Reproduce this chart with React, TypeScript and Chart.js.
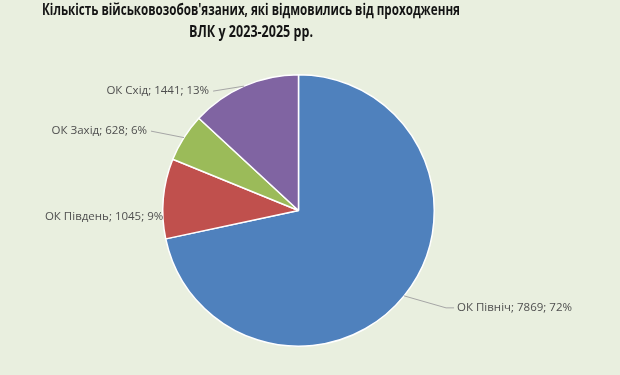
import React, { useEffect, useRef } from "react";
import { Chart, registerables } from "chart.js";

Chart.register(...registerables);

const categories = ["ОК Північ", "ОК Південь", "ОК Захід", "ОК Схід"];
const values = [7869, 1045, 628, 1441];
const percentLabels = ["72%", "9%", "6%", "13%"];
const colors = ["#4f81bd", "#c0504d", "#9bbb59", "#8064a2"];
const titleLines = [
  "Кількість військовозобов'язаних, які відмовились від проходження",
  "ВЛК у 2023-2025 рр.",
];

const BG = "#e9efdf";

// label placement relative to the slice's outer mid point
const labelPlacement = [
  { dx: 53, dy: 12, align: "left", elbow: { dx: 42, dy: 12 } },
  { dx: 0, dy: 18, align: "right", noLine: true },
  { dx: -37, dy: -6.5, align: "right" },
  { dx: -35, dy: 5, align: "right" },
];

const overlayPlugin = {
  id: "overlay",
  beforeDraw(chart: any) {
    const ctx = chart.ctx;
    ctx.save();
    ctx.fillStyle = BG;
    ctx.fillRect(0, 0, chart.width, chart.height);
    ctx.restore();
  },
  afterDraw(chart: any) {
    const ctx = chart.ctx;
    ctx.save();
    // title
    ctx.fillStyle = "#141414";
    ctx.font = "bold 15.5px 'Liberation Sans Narrow', 'Open Sans'";
    ctx.textAlign = "center";
    ctx.textBaseline = "alphabetic";
    ctx.fillText(titleLines[0], 251, 14.5, 418);
    ctx.fillText(titleLines[1], 251, 36.5, 124);

    // data labels
    const meta = chart.getDatasetMeta(0);
    ctx.font = "11.5px 'Open Sans'";
    ctx.textBaseline = "middle";
    meta.data.forEach((arc: any, i: number) => {
      const p = labelPlacement[i];
      const mid = (arc.startAngle + arc.endAngle) / 2;
      const ex = arc.x + Math.cos(mid) * arc.outerRadius;
      const ey = arc.y + Math.sin(mid) * arc.outerRadius;
      const tx = ex + p.dx;
      const ty = ey + p.dy;
      const text = `${categories[i]}; ${values[i]}; ${percentLabels[i]}`;
      if (!p.noLine) {
        ctx.strokeStyle = "#a6a6a6";
        ctx.lineWidth = 1;
        ctx.beginPath();
        ctx.moveTo(ex, ey);
        if (p.elbow) {
          ctx.lineTo(ex + p.elbow.dx, ey + p.elbow.dy);
        }
        ctx.lineTo(tx + (p.align === "left" ? -3 : 4), ty);
        ctx.stroke();
      }
      ctx.fillStyle = "#4f4f4f";
      ctx.textAlign = p.align;
      ctx.fillText(text, tx, ty);
    });
    ctx.restore();
  },
};

export default function App() {
  const ref = useRef<HTMLCanvasElement>(null);
  useEffect(() => {
    if (!ref.current) return;
    const chart = new Chart(ref.current, {
      type: "pie",
      data: {
        labels: categories,
        datasets: [
          {
            data: values,
            backgroundColor: colors,
            borderColor: "#ffffff",
            borderWidth: 1.5,
          },
        ],
      },
      options: {
        responsive: false,
        animation: false,
        layout: { padding: { left: 162, right: 185, top: 74, bottom: 28 } },
        plugins: {
          legend: { display: false },
          tooltip: { enabled: false },
          title: { display: false },
        },
      },
      plugins: [overlayPlugin],
    });
    return () => chart.destroy();
  }, []);
  return (
    <div
      style={{
        position: "fixed",
        left: 0,
        top: 0,
        width: 620,
        height: 375,
        background: BG,
      }}
    >
      <canvas ref={ref} width={620} height={375} style={{ display: "block" }} />
    </div>
  );
}
